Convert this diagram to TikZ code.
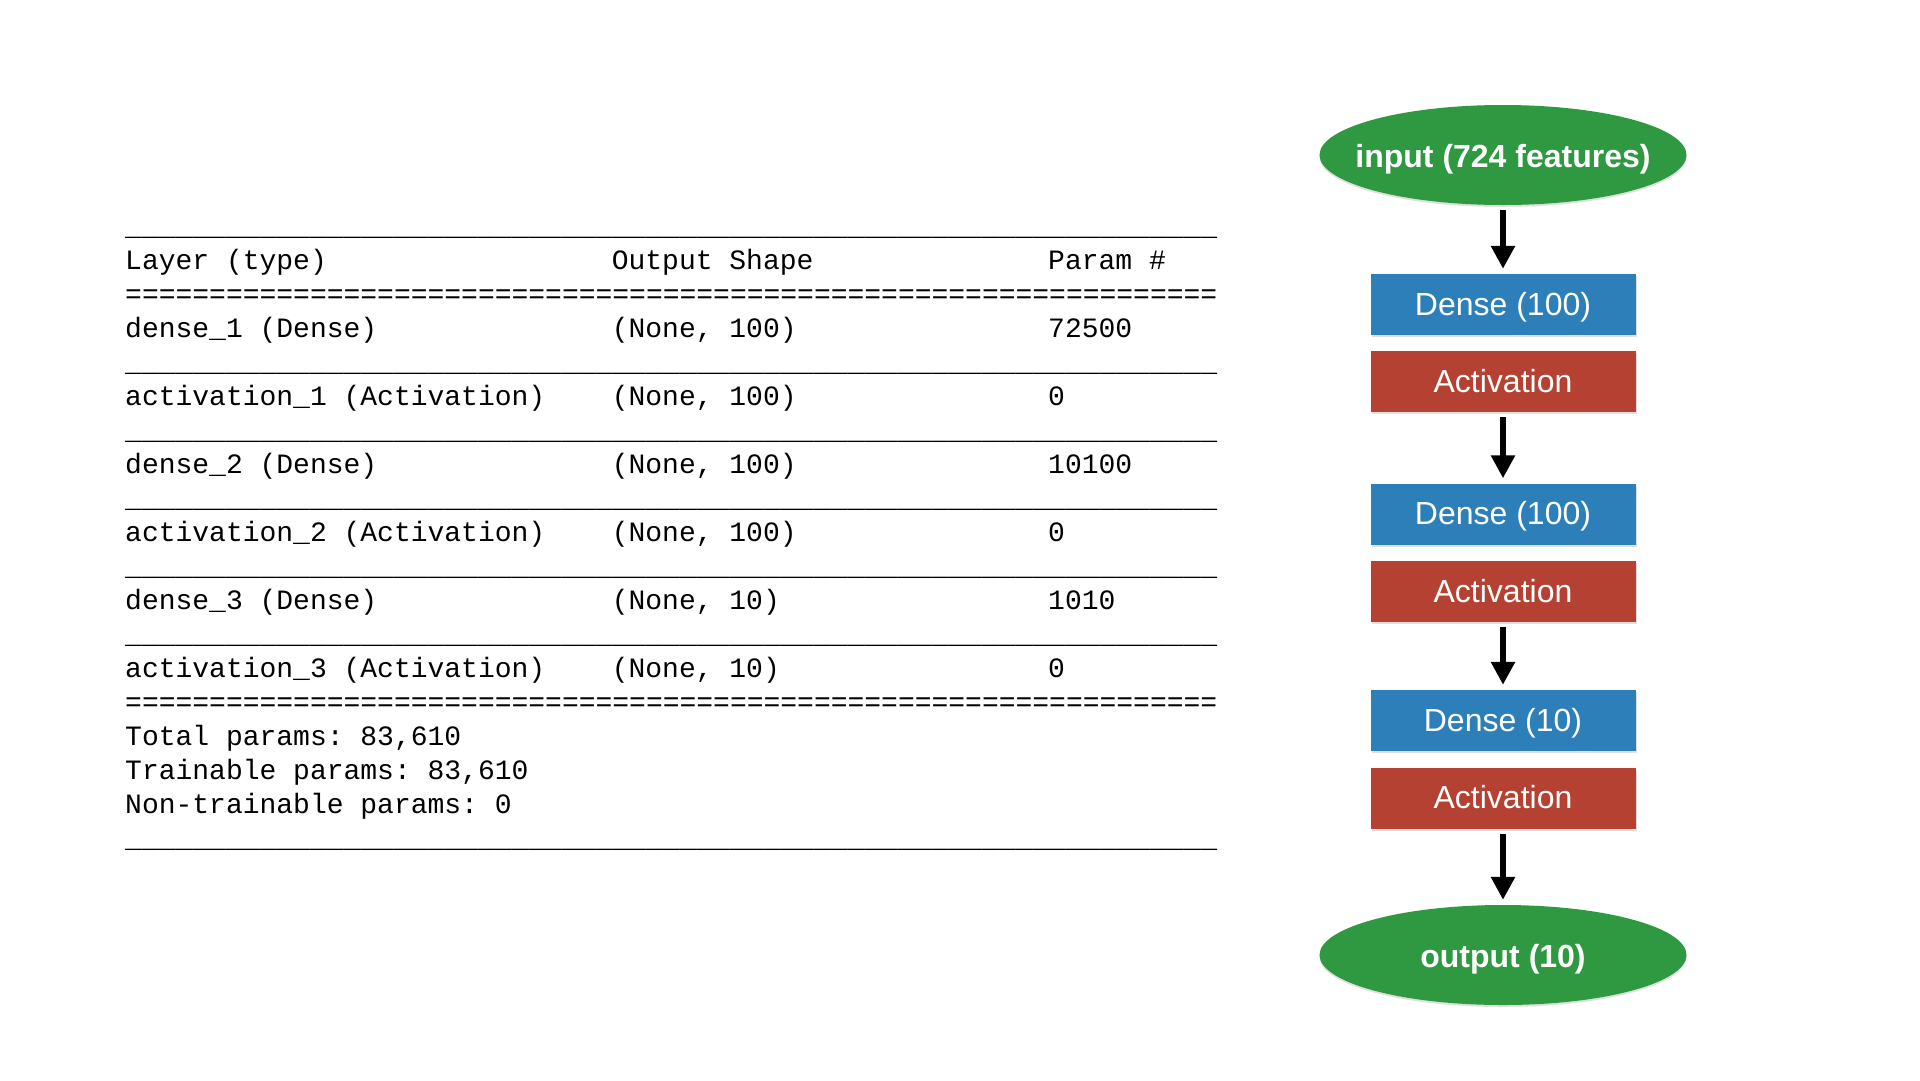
\documentclass[tikz,border=0pt]{standalone}
\usepackage{fontspec}
\setmainfont{Liberation Sans}
\newfontfamily\tablefont{Liberation Mono}
\usetikzlibrary{shapes.geometric,shadows,arrows.meta}
\definecolor{nodegreen}{RGB}{46,153,64}
\definecolor{nodeblue}{RGB}{45,127,186}
\definecolor{nodered}{RGB}{180,65,50}
\def\uu{\_\_\_\_\_}
\def\ulrow{\uu\uu\uu\uu\uu\uu\uu\uu\uu\uu\uu\uu\uu}
\def\ee{=====}
\def\eqrow{\ee\ee\ee\ee\ee\ee\ee\ee\ee\ee\ee\ee\ee}
\frenchspacing
\begin{document}
\begin{tikzpicture}[x=1pt,y=-1pt,
  tt/.style={anchor=west,inner sep=0pt,font=\tablefont\frenchspacing\fontsize{28}{34}\selectfont,text height=20pt,text depth=6pt},
  ioell/.style={ellipse,fill=nodegreen,minimum width=367pt,minimum height=100pt,inner xsep=-20pt,inner ysep=0pt,
    text=white,font=\bfseries\fontsize{32}{36}\selectfont,text height=24pt,text depth=0pt,
    drop shadow={opacity=0.25,shadow xshift=0pt,shadow yshift=-2pt}},
  densebox/.style={rectangle,fill=nodeblue,minimum width=265pt,minimum height=61pt,inner sep=0pt,
    text=white,font=\fontsize{32}{36}\selectfont,text height=22pt,text depth=1pt,
    drop shadow={opacity=0.25,shadow xshift=1pt,shadow yshift=-2pt}},
  actbox/.style={densebox,fill=nodered},
  flow/.style={line width=6pt,-{Triangle[width=23pt,length=23pt]},shorten <=5pt,shorten >=5pt}
]
\useasboundingbox[fill=white] (0,0) rectangle (1920,1080);

% ---------- table ----------
\def\ca{125}
\def\cb{611.6}
\def\cc{1048}
\def\ly#1{228.3+34*#1}
\node[tt] (r0) at (\ca,{\ly{0}}) {\ulrow};
\node[tt] (h1) at (\ca,{\ly{1}}) {Layer (type)};
\node[tt] (h2) at (\cb,{\ly{1}}) {Output Shape};
\node[tt] (h3) at (\cc,{\ly{1}}) {Param \#};
\node[tt] (r2) at (\ca,{\ly{2}}) {\eqrow};
\node[tt] (a1) at (\ca,{\ly{3}}) {dense\_1 (Dense)};
\node[tt] (b1) at (\cb,{\ly{3}}) {(None, 100)};
\node[tt] (c1) at (\cc,{\ly{3}}) {72500};
\node[tt] (r4) at (\ca,{\ly{4}}) {\ulrow};
\node[tt] (a2) at (\ca,{\ly{5}}) {activation\_1 (Activation)};
\node[tt] (b2) at (\cb,{\ly{5}}) {(None, 100)};
\node[tt] (c2) at (\cc,{\ly{5}}) {0};
\node[tt] (r6) at (\ca,{\ly{6}}) {\ulrow};
\node[tt] (a3) at (\ca,{\ly{7}}) {dense\_2 (Dense)};
\node[tt] (b3) at (\cb,{\ly{7}}) {(None, 100)};
\node[tt] (c3) at (\cc,{\ly{7}}) {10100};
\node[tt] (r8) at (\ca,{\ly{8}}) {\ulrow};
\node[tt] (a4) at (\ca,{\ly{9}}) {activation\_2 (Activation)};
\node[tt] (b4) at (\cb,{\ly{9}}) {(None, 100)};
\node[tt] (c4) at (\cc,{\ly{9}}) {0};
\node[tt] (r10) at (\ca,{\ly{10}}) {\ulrow};
\node[tt] (a5) at (\ca,{\ly{11}}) {dense\_3 (Dense)};
\node[tt] (b5) at (\cb,{\ly{11}}) {(None, 10)};
\node[tt] (c5) at (\cc,{\ly{11}}) {1010};
\node[tt] (r12) at (\ca,{\ly{12}}) {\ulrow};
\node[tt] (a6) at (\ca,{\ly{13}}) {activation\_3 (Activation)};
\node[tt] (b6) at (\cb,{\ly{13}}) {(None, 10)};
\node[tt] (c6) at (\cc,{\ly{13}}) {0};
\node[tt] (r14) at (\ca,{\ly{14}}) {\eqrow};
\node[tt] (s1) at (\ca,{\ly{15}}) {Total params: 83,610};
\node[tt] (s2) at (\ca,{\ly{16}}) {Trainable params: 83,610};
\node[tt] (s3) at (\ca,{\ly{17}}) {Non-trainable params: 0};
\node[tt] (r18) at (\ca,{\ly{18}}) {\ulrow};

% ---------- flow ----------
\node[ioell] (in) at (1503,155) {input (724 features)};
\node[densebox] (d1) at (1503,304.5) {Dense (100)};
\node[actbox] (act1) at (1503,381.5) {Activation};
\node[densebox] (d2) at (1503,514) {Dense (100)};
\node[actbox] (act2) at (1503,591.5) {Activation};
\node[densebox] (d3) at (1503,720.5) {Dense (10)};
\node[actbox] (act3) at (1503,798) {Activation};
\node[ioell] (out) at (1503,955) {output (10)};

\draw[flow] (in) -- (d1);
\draw[flow] (act1) -- (d2);
\draw[flow] (act2) -- (d3);
\draw[flow] (act3) -- (out);
\end{tikzpicture}
\end{document}
